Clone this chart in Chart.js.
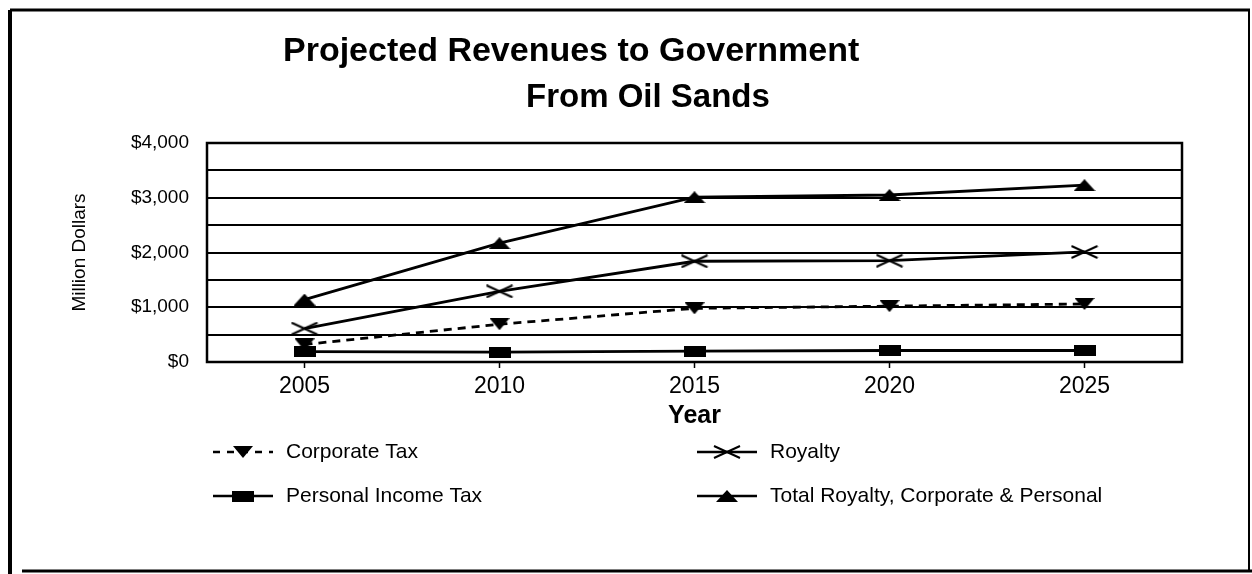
<!DOCTYPE html>
<html>
<head>
<meta charset="utf-8">
<title>Projected Revenues to Government From Oil Sands</title>
<script src="https://cdn.jsdelivr.net/npm/chart.js@4.4.1/dist/chart.umd.min.js"></script>
<style>
  body { margin: 0; background: #fff; }
  canvas { display: block; }
</style>
</head>
<body>
<canvas id="revenueChart" width="1252" height="574"></canvas>
<script>
// Projected revenues (million dollars)

const years = ['2005', '2010', '2015', '2020', '2025'];
const corporateTax = [320, 690, 980, 1020, 1060];
const royalty = [610, 1290, 1840, 1850, 2010];
const personalIncomeTax = [190, 180, 200, 210, 210];
const totalRevenue = [1140, 2170, 3010, 3050, 3230];

const yTicks = [0, 1000, 2000, 3000, 4000];
const titleLines = ['Projected Revenues to Government', 'From Oil Sands'];

const FONT = '"Liberation Sans", Arial, Helvetica, sans-serif';

// small marker images, wide and flat like the scan
const makeMarker = (w, h, draw) => {
  const c = document.createElement('canvas');
  c.width = w;
  c.height = h;
  const g = c.getContext('2d');
  g.fillStyle = '#000';
  g.strokeStyle = '#000';
  draw(g, w, h);
  return c;
};

const triangleUp = makeMarker(22, 12, (g, w, h) => {
  g.beginPath();
  g.moveTo(w / 2, 0);
  g.lineTo(w, h);
  g.lineTo(0, h);
  g.closePath();
  g.fill();
});

const triangleDown = makeMarker(20, 12, (g, w, h) => {
  g.beginPath();
  g.moveTo(0, 0);
  g.lineTo(w, 0);
  g.lineTo(w / 2, h);
  g.closePath();
  g.fill();
});

const wideRect = makeMarker(22, 11, (g, w, h) => {
  g.fillRect(0, 0, w, h);
});

const crossMark = makeMarker(28, 14, (g, w, h) => {
  g.lineWidth = 2;
  g.beginPath();
  g.moveTo(1, 1);
  g.lineTo(w - 1, h - 1);
  g.moveTo(w - 1, 1);
  g.lineTo(1, h - 1);
  g.stroke();
});

const seriesStyle = (label, data, marker, dashed) => ({
  label,
  data,
  borderColor: '#000',
  backgroundColor: '#000',
  borderWidth: 2.8,
  borderDash: dashed ? [8, 6] : [],
  pointStyle: marker,
  pointRadius: 8,
  tension: 0,
  fill: false,
});

// outer page frame
const pageFrame = {
  id: 'pageFrame',
  afterDraw: (chart) => {
    const { ctx, width, height } = chart;
    ctx.save();
    ctx.strokeStyle = '#000';
    ctx.lineWidth = 4;
    ctx.beginPath();
    ctx.moveTo(10, 10);
    ctx.lineTo(10, height);
    ctx.stroke();
    ctx.lineWidth = 3;
    ctx.beginPath();
    ctx.moveTo(10, 10);
    ctx.lineTo(width - 2, 10);
    ctx.moveTo(22, height - 3);
    ctx.lineTo(width, height - 3);
    ctx.stroke();
    ctx.lineWidth = 2;
    ctx.beginPath();
    ctx.moveTo(width - 3, 10);
    ctx.lineTo(width - 3, height - 3);
    ctx.stroke();
    ctx.restore();
  },
};

// box around the plot area
const plotFrame = {
  id: 'plotFrame',
  beforeDatasetsDraw: (chart) => {
    const { ctx, chartArea: a } = chart;
    ctx.save();
    ctx.strokeStyle = '#000';
    ctx.lineWidth = 2.5;
    ctx.strokeRect(a.left, a.top, a.right - a.left, a.bottom - a.top);
    ctx.restore();
  },
};

// two-line title, second line sits right of centre as in the scan
const titleLines2 = {
  id: 'titleLines2',
  afterDraw: (chart) => {
    const { ctx } = chart;
    ctx.save();
    ctx.fillStyle = '#000';
    ctx.textBaseline = 'alphabetic';
    ctx.textAlign = 'left';
    ctx.font = `bold 34px ${FONT}`;
    ctx.fillText(titleLines[0], 283, 61);
    ctx.font = `bold 33px ${FONT}`;
    ctx.fillText(titleLines[1], 526, 107);
    ctx.restore();
  },
};

// legend in two columns with line samples
const sampleLegend = {
  id: 'sampleLegend',
  afterDraw: (chart) => {
    const { ctx } = chart;
    const slots = [
      { x: 213, y: 452 },
      { x: 697, y: 452 },
      { x: 213, y: 496 },
      { x: 697, y: 496 },
    ];
    ctx.save();
    chart.data.datasets.forEach((ds, i) => {
      const s = slots[i];
      const len = 60;
      ctx.strokeStyle = '#000';
      ctx.lineWidth = 2.5;
      ctx.setLineDash(ds.borderDash.length ? [7, 7] : []);
      ctx.beginPath();
      ctx.moveTo(s.x, s.y);
      ctx.lineTo(s.x + len, s.y);
      ctx.stroke();
      ctx.setLineDash([]);
      const m = ds.pointStyle;
      ctx.drawImage(m, s.x + len / 2 - m.width / 2, s.y - m.height / 2);
      ctx.fillStyle = '#000';
      ctx.font = `21px ${FONT}`;
      ctx.textBaseline = 'middle';
      ctx.textAlign = 'left';
      ctx.fillText(ds.label, s.x + len + 13, s.y);
    });
    ctx.restore();
  },
};

const ctx = document.getElementById('revenueChart');

new Chart(ctx, {
  type: 'line',
  data: {
    labels: years,
    datasets: [
      seriesStyle('Corporate Tax', corporateTax, triangleDown, true),
      seriesStyle('Royalty', royalty, crossMark, false),
      seriesStyle('Personal Income Tax', personalIncomeTax, wideRect, false),
      seriesStyle('Total Royalty, Corporate & Personal', totalRevenue, triangleUp, false),
    ],
  },
  options: {
    responsive: false,
    animation: false,
    devicePixelRatio: 1,
    layout: {
      padding: { top: 143, left: 0, right: 70, bottom: 142 },
    },
    plugins: {
      legend: { display: false },
      title: { display: false },
      tooltip: { enabled: false },
    },
    scales: {
      x: {
        type: 'category',
        offset: true,
        afterFit: (scale) => {
          scale.height = 70;
        },
        grid: {
          display: true,
          offset: false,
          drawOnChartArea: false,
          drawTicks: true,
          tickLength: 6,
          tickWidth: 1.5,
          tickColor: '#000',
        },
        border: { display: false },
        ticks: {
          color: '#000',
          padding: 5,
          maxRotation: 0,
          font: { family: FONT, size: 23 },
        },
        title: {
          display: true,
          text: 'Year',
          color: '#000',
          padding: { top: 0, bottom: 1 },
          font: { family: FONT, size: 25, weight: 'bold' },
        },
      },
      y: {
        min: yTicks[0],
        max: yTicks[yTicks.length - 1],
        afterFit: (scale) => {
          scale.width = 207;
        },
        grid: {
          color: '#000',
          lineWidth: 2,
          drawTicks: false,
        },
        border: { display: false },
        ticks: {
          stepSize: 500,
          color: '#000',
          padding: 18,
          font: { family: FONT, size: 19 },
          callback: (value) => (yTicks.includes(value) ? '$' + value.toLocaleString('en-US') : ''),
        },
        title: {
          display: true,
          text: 'Million Dollars',
          color: '#000',
          padding: { top: 68, bottom: 0 },
          font: { family: FONT, size: 19 },
        },
      },
    },
  },
  plugins: [plotFrame, titleLines2, sampleLegend, pageFrame],
});
</script>
</body>
</html>
